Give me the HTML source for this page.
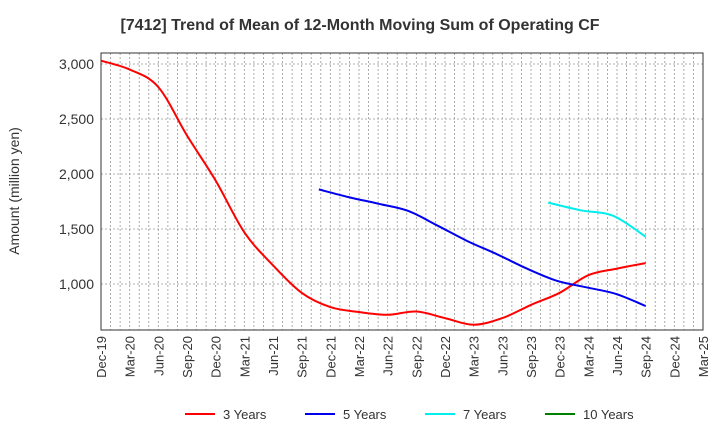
<!DOCTYPE html>
<html><head><meta charset="utf-8"><style>
body{margin:0;background:#fff;font-family:"Liberation Sans",Arial,sans-serif}
svg text{font-family:"Liberation Sans",Arial,sans-serif}
</style></head><body>
<svg width="720" height="440" xmlns="http://www.w3.org/2000/svg" id="chart">
<text x="360" y="30" text-anchor="middle" font-size="16" font-weight="bold" fill="#333">[7412]  Trend of Mean of 12-Month Moving Sum of Operating CF</text>
<g id="grid"></g>
<g id="axes"></g>
<g id="series"></g>
<text transform="translate(19,191) rotate(-90)" text-anchor="middle" font-size="14" fill="#333">Amount (million yen)</text>
<g id="legend"></g>
</svg>
<script>
const xLabels=["Dec-19","Mar-20","Jun-20","Sep-20","Dec-20","Mar-21","Jun-21","Sep-21","Dec-21","Mar-22","Jun-22","Sep-22","Dec-22","Mar-23","Jun-23","Sep-23","Dec-23","Mar-24","Jun-24","Sep-24","Dec-24","Mar-25"];
const yTicks=[1000,1500,2000,2500,3000];
const yTickLabels=["1,000","1,500","2,000","2,500","3,000"];
const s3=[3030,2950,2790,2350,1940,1470,1170,920,790,745,720,750,690,630,690,810,920,1080,1140,1190];
const s5=[1860,1790,1730,1665,1530,1390,1270,1140,1030,970,910,800];
const s7=[1740,1670,1620,1430];
const s10=[];
const names=["3 Years","5 Years","7 Years","10 Years"];
const colors=["#ff0000","#0000ee","#00eeee","#008000"];
const starts=[0,7.6,15.6,20];
const L=101,R=703,T=53,B=330;
const X=q=>L+q*(R-L)/21;
const Y=v=>64+(3000-v)*55/500;
const NS="http://www.w3.org/2000/svg";
function mk(t,a,p){const e=document.createElementNS(NS,t);for(const k in a)e.setAttribute(k,a[k]);p.appendChild(e);return e;}
const grid=document.getElementById('grid'),axes=document.getElementById('axes'),ser=document.getElementById('series'),leg=document.getElementById('legend');
for(let m=1;m<63;m++){const x=L+m*(R-L)/63;const l=mk('line',{x1:x,x2:x,y1:T,y2:B,stroke:'#999','stroke-dasharray':'2,2','stroke-width':0.8},grid);

}
yTicks.forEach((v,i)=>{const l=mk('line',{x1:L,x2:R,y1:Y(v),y2:Y(v),stroke:'#999','stroke-dasharray':'2,2','stroke-width':0.8},grid);


const t=mk('text',{x:L-7,y:Y(v)+5,'text-anchor':'end','font-size':14,fill:'#333'},axes);t.textContent=yTickLabels[i];

});
const fr=mk('rect',{x:L,y:T,width:R-L,height:B-T,fill:'none',stroke:'#333','stroke-width':1},axes);


xLabels.forEach((s,i)=>{const x=X(i)+5;const t=mk('text',{transform:`translate(${x},${B+6}) rotate(-90)`,'text-anchor':'end','font-size':13,fill:'#333'},axes);t.textContent=s;

});
function path(pts){let d=`M${pts[0][0]},${pts[0][1]}`;for(let i=0;i<pts.length-1;i++){const p0=pts[i-1]||pts[i],p1=pts[i],p2=pts[i+1],p3=pts[i+2]||p2;
d+=` C${p1[0]+(p2[0]-p0[0])/6},${p1[1]+(p2[1]-p0[1])/6} ${p2[0]-(p3[0]-p1[0])/6},${p2[1]-(p3[1]-p1[1])/6} ${p2[0]},${p2[1]}`;}return d;}
[s3,s5,s7,s10].forEach((s,k)=>{if(s.length<2)return;const n=s.length;const st=starts[k];const pts=s.map((v,i)=>[X(st+i*(19-st)/(n-1)),Y(v)]);
const p=mk('path',{d:path(pts),fill:'none',stroke:colors[k],'stroke-width':2},ser);

});
const lx=[185,305,425,545];
names.forEach((n,k)=>{const g=mk('g',{},leg);


mk('line',{x1:lx[k],x2:lx[k]+30,y1:414,y2:414,stroke:colors[k],'stroke-width':2},g);
const t=mk('text',{x:lx[k]+38,y:419,'font-size':13,fill:'#333'},g);t.textContent=n;});
</script>
</body></html>
